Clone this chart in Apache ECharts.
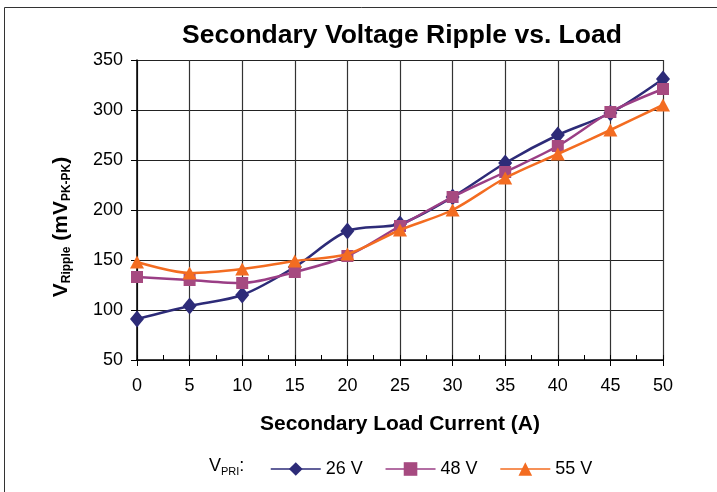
<!DOCTYPE html>
<html>
<head>
<meta charset="utf-8">
<script src="https://cdn.jsdelivr.net/npm/echarts@6/dist/echarts.min.js"></script>
<style>
  html, body { margin: 0; padding: 0; background: #fff; }
  #chart { width: 717px; height: 492px; }
</style>
</head>
<body>
<div id="chart"></div>
<script>
// load current (A)
var loadCurrent = [0, 5, 10, 15, 20, 25, 30, 35, 40, 45, 50];
// ripple, mV pk-pk
var ripple26 = [91, 104, 115, 143, 179, 186, 213, 247, 275, 297, 331];
var ripple48 = [133, 130, 127, 138, 154, 184, 213, 238, 264, 298, 321];
var ripple55 = [148, 137, 141, 149, 156, 180, 200, 232, 256, 280, 305];
var seriesNames = ['26 V', '48 V', '55 V'];

var FONT = 'Liberation Sans, Arial, sans-serif';

function pairs(vals) {
    return loadCurrent.map(function (x, i) { return [x, vals[i]]; });
}

var option = {
    backgroundColor: '#fff',
    animation: false,
    title: {
        text: 'Secondary Voltage Ripple vs. Load',
        left: 397,
        top: 17,
        textAlign: 'center',
        textStyle: { fontFamily: FONT, fontSize: 26.5, fontWeight: 'bold', color: '#000' }
    },
    grid: { left: 137, right: 54, top: 60, bottom: 132 },
    legend: {
        left: 265,
        top: 455,
        itemWidth: 50,
        itemHeight: 17,
        itemGap: 22,
        textStyle: { fontFamily: FONT, fontSize: 18, color: '#000' },
        lineStyle: { width: 1.5 },
        data: seriesNames
    },
    graphic: [
        {
            type: 'rect',
            shape: { x: 4.5, y: 7.5, width: 900, height: 700 },
            style: { fill: 'none', stroke: '#333', lineWidth: 1 }
        },
        {
            type: 'text',
            left: 209,
            top: 457,
            style: {
                text: '{v|V}{s|PRI}{v|:}',
                rich: {
                    v: { fontFamily: FONT, fontSize: 18, color: '#000' },
                    s: { fontFamily: FONT, fontSize: 11, color: '#000', padding: [11, 0, 0, 0] }
                }
            }
        }
    ],
    xAxis: [{
        type: 'value',
        min: 0,
        max: 50,
        interval: 5,
        name: 'Secondary Load Current (A)',
        nameLocation: 'middle',
        nameGap: 54,
        nameTextStyle: { fontFamily: FONT, fontSize: 21, fontWeight: 'bold', color: '#000' },
        axisLine: { lineStyle: { color: '#000', width: 1.5 } },
        axisTick: { length: 6, lineStyle: { color: '#000' } },
        axisLabel: { margin: 17, fontFamily: FONT, fontSize: 18, color: '#000' },
        splitLine: { show: true, lineStyle: { color: '#333', width: 1.2 } }
    }, {
        // inner minor ticks
        type: 'value',
        position: 'bottom',
        min: 0,
        max: 50,
        interval: 2.5,
        axisLine: { show: false },
        axisTick: { inside: true, length: 5, lineStyle: { color: '#000' } },
        axisLabel: { show: false },
        splitLine: { show: false }
    }],
    yAxis: {
        type: 'value',
        min: 50,
        max: 350,
        interval: 50,
        name: '{v|V}{s|Ripple}{v| (mV}{s|PK-PK}{v|)}',
        nameLocation: 'middle',
        nameRotate: 90,
        nameGap: 64,
        nameTextStyle: {
            padding: [0, 34, 0, 0],
            rich: {
                v: { fontFamily: FONT, fontSize: 21, fontWeight: 'bold', color: '#000' },
                s: { fontFamily: FONT, fontSize: 12, fontWeight: 'bold', color: '#000', padding: [12, 0, 0, 0] }
            }
        },
        axisLine: { show: true, lineStyle: { color: '#000', width: 1.5 } },
        axisTick: { show: true, length: 6, lineStyle: { color: '#000' } },
        axisLabel: { margin: 14, fontFamily: FONT, fontSize: 18, color: '#000' },
        splitLine: { show: true, lineStyle: { color: '#222', width: 1.2 } }
    },
    series: [
        {
            name: seriesNames[0],
            type: 'line',
            data: pairs(ripple26),
            smooth: 0.3,
            symbol: 'diamond',
            symbolSize: [14, 17],
            lineStyle: { color: '#2D2B78', width: 2.5 },
            itemStyle: { color: '#2D2B78' },
            z: 3
        },
        {
            name: seriesNames[1],
            type: 'line',
            data: pairs(ripple48),
            smooth: 0.3,
            symbol: 'rect',
            symbolSize: 12,
            lineStyle: { color: '#9A3E85', width: 2.5 },
            itemStyle: { color: '#A64A80' },
            z: 4
        },
        {
            name: seriesNames[2],
            type: 'line',
            data: pairs(ripple55),
            smooth: 0.3,
            symbol: 'triangle',
            symbolSize: [14, 13],
            lineStyle: { color: '#F36C21', width: 2.5 },
            itemStyle: { color: '#F36C21' },
            z: 5
        }
    ]
};

var myChart = echarts.init(document.getElementById('chart'), null, { renderer: 'canvas' });
myChart.setOption(option);
</script>
</body>
</html>
